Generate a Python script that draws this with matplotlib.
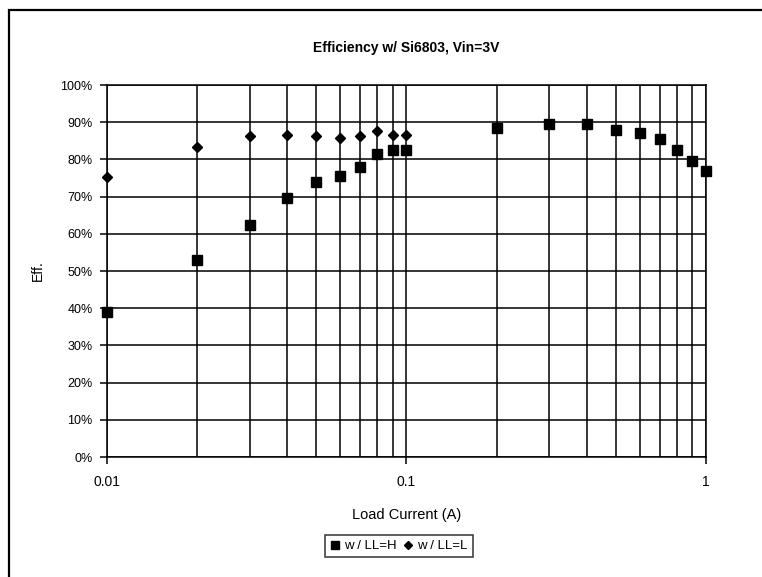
import matplotlib
matplotlib.use("Agg")
import matplotlib.pyplot as plt
from matplotlib.patches import Rectangle
from matplotlib.ticker import FixedLocator, FixedFormatter, NullFormatter

plt.rcParams['font.family'] = ['Liberation Sans', 'DejaVu Sans']

# Data
current_h = [0.01, 0.02, 0.03, 0.04, 0.05, 0.06, 0.07, 0.08, 0.09, 0.1,
             0.2, 0.3, 0.4, 0.5, 0.6, 0.7, 0.8, 0.9, 1.0]
eff_h = [39.0, 53.0, 62.5, 69.5, 74.0, 75.5, 78.0, 81.4, 82.5, 82.5,
         88.5, 89.4, 89.4, 87.9, 87.0, 85.5, 82.5, 79.6, 77.0]
current_l = [0.01, 0.02, 0.03, 0.04, 0.05, 0.06, 0.07, 0.08, 0.09, 0.1]
eff_l = [75.3, 83.3, 86.4, 86.6, 86.3, 85.8, 86.4, 87.6, 86.6, 86.6]

y_ticks = list(range(0, 101, 10))
y_labels = [f"{v}%" for v in y_ticks]
x_major = [0.01, 0.1, 1]
x_labels = ["0.01", "0.1", "1"]

W, H = 762, 577
fig = plt.figure(figsize=(W/100, H/100), dpi=100)
fig.patch.set_facecolor("white")

# outer chart frame (cropped at right and bottom)
fig.patches.append(Rectangle((9/W, -0.1), 1.2, 1 - 10/H + 0.1, transform=fig.transFigure,
                             fill=False, edgecolor="black", linewidth=1.6))

ax = fig.add_axes([106.7/W, 1 - 457/H, (706 - 106.7)/W, (457 - 85)/H])
ax.set_xscale("log")
ax.set_xlim(0.01, 1)
ax.set_ylim(0, 100)

minor = [m * d for d in (0.01, 0.1) for m in range(2, 10)]
ax.xaxis.set_major_locator(FixedLocator(x_major))
ax.xaxis.set_major_formatter(FixedFormatter(x_labels))
ax.xaxis.set_minor_locator(FixedLocator(minor))
ax.xaxis.set_minor_formatter(NullFormatter())
ax.set_yticks(y_ticks)
ax.set_yticklabels(y_labels)

ax.grid(True, which="both", axis="x", color="black", linewidth=1.1)
ax.grid(True, which="major", axis="y", color="black", linewidth=1.1)
ax.set_axisbelow(True)
for s in ax.spines.values():
    s.set_linewidth(1.1)
ax.tick_params(axis="x", which="minor", length=0)
ax.tick_params(axis="x", which="major", length=5, width=1.1, pad=8, labelsize=10)
ax.tick_params(axis="y", length=5, width=1.1, pad=5, labelsize=9)

ax.plot(current_h, eff_h, linestyle="none", marker="s", markersize=6.5,
        color="black", label="w / LL=H", clip_on=False, zorder=3)
ax.plot(current_l, eff_l, linestyle="none", marker="D", markersize=5,
        color="black", label="w / LL=L", clip_on=False, zorder=3)

ax.set_title("Efficiency w/ Si6803, Vin=3V", fontsize=10, fontweight="bold", pad=24)
ax.set_xlabel("Load Current (A)", fontsize=10.5, labelpad=14)
ax.set_ylabel("Eff.", fontsize=10, labelpad=11)

leg = fig.legend(loc="center", bbox_to_anchor=(399/W, 1 - 546/H), ncol=2,
                 frameon=True, fancybox=False, fontsize=9.5, handlelength=0.7,
                 handletextpad=0.35, columnspacing=0.5, borderpad=0.4, markerscale=0.8)
leg.get_frame().set_edgecolor("black")
leg.get_frame().set_linewidth(1.1)

fig.savefig("out.png", dpi=100, facecolor="white")
